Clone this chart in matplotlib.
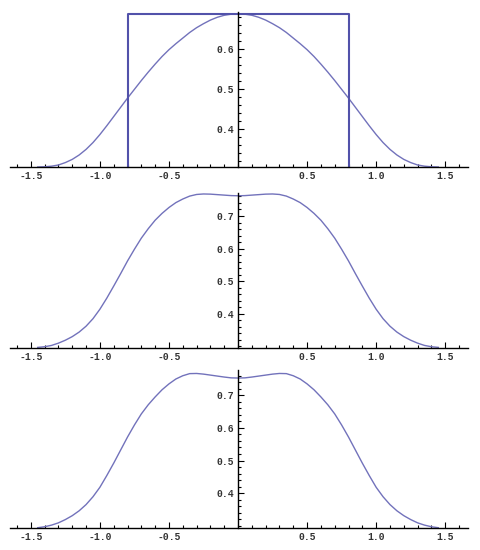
import matplotlib
matplotlib.use("Agg")
import matplotlib.pyplot as plt
from matplotlib.ticker import MultipleLocator, FixedLocator

x_vals = [-1.45, -1.4, -1.35, -1.3, -1.25, -1.2, -1.15, -1.1, -1.05, -1.0,
          -0.95, -0.9, -0.85, -0.8, -0.75, -0.7, -0.65, -0.6, -0.55, -0.5,
          -0.45, -0.4, -0.35, -0.3, -0.25, -0.2, -0.15, -0.1, -0.05, 0.0,
          0.05, 0.1, 0.15, 0.2, 0.25, 0.3, 0.35, 0.4, 0.45, 0.5,
          0.55, 0.6, 0.65, 0.7, 0.75, 0.8, 0.85, 0.9, 0.95, 1.0,
          1.05, 1.1, 1.15, 1.2, 1.25, 1.3, 1.35, 1.4, 1.45]

# top panel: single bump plus the box at +-0.8
y_top = [0.305, 0.3055, 0.307, 0.310, 0.316, 0.324, 0.335, 0.349, 0.366, 0.386,
         0.408, 0.431, 0.454, 0.477, 0.499, 0.521, 0.542, 0.562, 0.581, 0.598,
         0.613, 0.627, 0.641, 0.653, 0.663, 0.672, 0.679, 0.684, 0.6867, 0.6875,
         0.6867, 0.684, 0.679, 0.672, 0.663, 0.653, 0.641, 0.627, 0.613, 0.598,
         0.581, 0.562, 0.542, 0.521, 0.499, 0.477, 0.454, 0.431, 0.408, 0.386,
         0.366, 0.349, 0.335, 0.324, 0.316, 0.310, 0.307, 0.3055, 0.305]
box_x = [-0.8, -0.8, 0.8, 0.8]
box_y = [0.305, 0.6875, 0.6875, 0.305]

# middle panel
y_mid = [0.297, 0.299, 0.303, 0.310, 0.319, 0.330, 0.344, 0.362, 0.385, 0.414,
         0.448, 0.485, 0.523, 0.562, 0.598, 0.632, 0.661, 0.687, 0.708, 0.726,
         0.741, 0.752, 0.761, 0.766, 0.7675, 0.767, 0.7655, 0.764, 0.7625, 0.762,
         0.7625, 0.764, 0.7655, 0.767, 0.7675, 0.766, 0.761, 0.752, 0.741, 0.726,
         0.708, 0.687, 0.661, 0.632, 0.598, 0.562, 0.523, 0.485, 0.448, 0.414,
         0.385, 0.362, 0.344, 0.330, 0.319, 0.310, 0.303, 0.299, 0.297]

# bottom panel
y_bot = [0.294, 0.297, 0.302, 0.309, 0.319, 0.331, 0.346, 0.365, 0.389, 0.418,
         0.454, 0.492, 0.532, 0.572, 0.609, 0.643, 0.671, 0.695, 0.717, 0.735,
         0.750, 0.760, 0.7665, 0.767, 0.765, 0.762, 0.759, 0.756, 0.7535, 0.753,
         0.7535, 0.756, 0.759, 0.762, 0.765, 0.767, 0.7665, 0.760, 0.750, 0.735,
         0.717, 0.695, 0.671, 0.643, 0.609, 0.572, 0.532, 0.492, 0.454, 0.418,
         0.389, 0.365, 0.346, 0.331, 0.319, 0.309, 0.302, 0.297, 0.294]

x_ticks = [-1.5, -1.0, -0.5, 0.5, 1.0, 1.5]
x_labels = ["-1.5", "-1.0", "-0.5", "0.5", "1.0", "1.5"]

panels = [
    # (y values, ylim, y ticks, axes rect)
    (y_top, (0.305, 0.6925), [0.4, 0.5, 0.6], [0.021, 0.6964, 0.952, 0.282]),
    (y_mid, (0.296, 0.770), [0.4, 0.5, 0.6, 0.7], [0.021, 0.3678, 0.952, 0.281]),
    (y_bot, (0.294, 0.778), [0.4, 0.5, 0.6, 0.7], [0.021, 0.0405, 0.952, 0.287]),
]

curve_color = "#7272bb"
box_color = "#5252aa"

fig = plt.figure(figsize=(4.81, 5.5), dpi=100)

for i, (yv, ylim, yt, rect) in enumerate(panels):
    ax = fig.add_axes(rect)
    ax.plot(x_vals, yv, color=curve_color, lw=1.0)
    if i == 0:
        ax.plot(box_x, box_y, color=box_color, lw=1.5, clip_on=False)
    ax.set_xlim(-1.65, 1.665)
    ax.set_ylim(*ylim)

    ax.spines["top"].set_visible(False)
    ax.spines["right"].set_visible(False)
    ax.spines["left"].set_position(("data", 0))
    ax.spines["left"].set_linewidth(1.0)
    ax.spines["bottom"].set_linewidth(1.0)

    ax.xaxis.set_major_locator(FixedLocator(x_ticks))
    ax.set_xticklabels(x_labels)
    ax.xaxis.set_minor_locator(MultipleLocator(0.1))
    ax.yaxis.set_major_locator(FixedLocator(yt))
    ax.set_yticklabels([f"{v:.1f}" for v in yt])
    ax.yaxis.set_minor_locator(MultipleLocator(0.02))

    ax.tick_params(which="both", direction="in", color="black", width=0.8,
                   labelsize=7, labelcolor="#333333")
    ax.tick_params(which="major", length=4, pad=3)
    ax.tick_params(which="minor", length=2.2)
    for lab in ax.get_xticklabels() + ax.get_yticklabels():
        lab.set_fontfamily("Liberation Mono")
        lab.set_fontweight("bold")
    ax.patch.set_alpha(0)

fig.savefig("out.png", dpi=100)
